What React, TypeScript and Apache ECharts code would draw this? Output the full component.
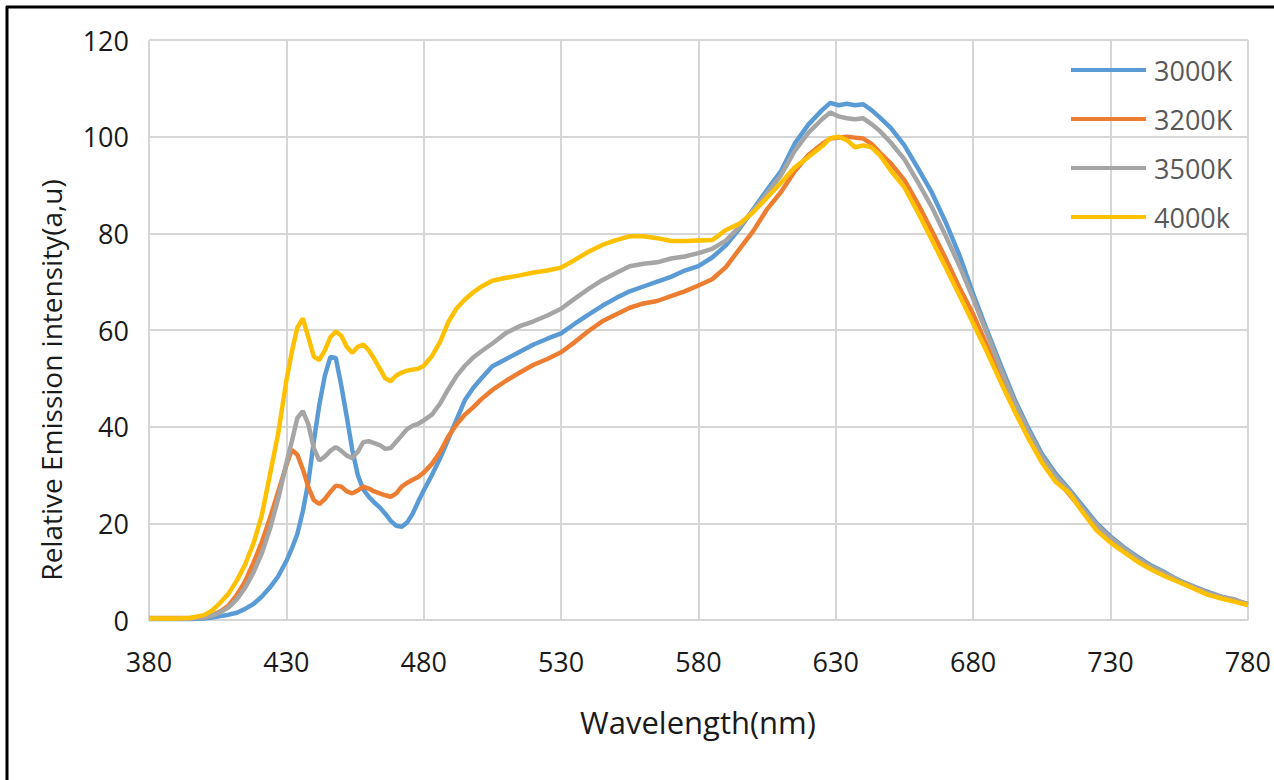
import React, { useEffect, useRef } from "react";
import * as echarts from "echarts";

const wavelengths = [
  380, 385, 390, 395, 400, 403, 406, 409, 412, 415, 418, 421, 424, 427,
  430, 432, 434, 436, 438, 440, 442, 444, 446, 448, 450, 452, 454, 456, 458, 460,
  462, 464, 466, 468, 470, 472, 474, 476, 478, 480,
  483, 486, 489, 492, 495, 498, 501, 505,
  510, 515, 520, 525, 530, 535, 540, 545, 550, 555, 560, 565, 570, 575, 580, 585,
  590, 595, 600, 605, 610, 615, 620, 625,
  628, 631, 634, 637, 640, 643, 646,
  650, 655, 660, 665, 670, 675, 680, 685, 690, 695, 700, 705, 710, 715, 720, 725,
  730, 735, 740, 745, 750, 755, 760, 765, 770, 775, 780,
];

const s3000K = [
  0.2, 0.2, 0.2, 0.2, 0.3, 0.5, 0.8, 1.1, 1.5, 2.3, 3.3, 4.8, 6.7, 9.0,
  12.2, 14.8, 17.8, 22.5, 28.5, 37, 44.5, 50.5, 54.4, 54.2, 48.5, 42, 35.2, 30, 27, 25.5,
  24.3, 23.3, 22, 20.5, 19.5, 19.3, 20.2, 22, 24.5, 26.8,
  30, 33.5, 37.5, 41.5, 45.5, 48, 50, 52.5,
  54, 55.5, 57, 58.2, 59.3, 61.3, 63.2, 65, 66.6, 68, 69, 70, 71, 72.3, 73.2, 75,
  77.5, 81, 85, 89, 92.8, 98.5, 102.5, 105.5,
  107, 106.5, 106.8, 106.5, 106.7, 105.5, 104,
  101.8, 98.2, 93.4, 88.4, 82.3, 75.5, 67.5, 60, 52.8, 45.8, 39.8, 34.4, 30.3, 27, 23.5, 20,
  17.3, 15, 13, 11.2, 9.8, 8.2, 7, 5.9, 4.9, 4.1, 3.3,
];

const s3200K = [
  0.4, 0.4, 0.4, 0.4, 0.6, 1.0, 1.8, 3.0, 5.2, 8.0, 11.8, 16, 21, 26.5,
  32, 35.2, 34.2, 31.2, 27.5, 24.8, 24, 25, 26.5, 27.8, 27.6, 26.6, 26.2, 26.8, 27.6, 27.2,
  26.6, 26.2, 25.8, 25.5, 26.2, 27.6, 28.4, 29, 29.6, 30.5,
  32.3, 34.8, 38, 40.5, 42.5, 44, 45.7, 47.6,
  49.5, 51.2, 52.8, 54, 55.4, 57.5, 59.8, 61.8, 63.2, 64.6, 65.5, 66, 67, 68, 69.2, 70.5,
  73, 76.8, 80.5, 85, 88.5, 92.8, 96.2, 98.5,
  99.6, 99.8, 100, 99.8, 99.6, 98.5, 96.7,
  94.5, 91, 86, 80.5, 74.8, 68.8, 63.3, 56.8, 50.5, 44.2, 38.4, 33.2, 29.2, 26, 22.5, 19.2,
  16.8, 14.5, 12.5, 10.8, 9.4, 8, 6.8, 5.7, 4.7, 4, 3.3,
];

const s3500K = [
  0.3, 0.3, 0.3, 0.3, 0.5, 0.9, 1.6, 2.6, 4.3, 6.7, 9.8, 13.7, 18.8, 25,
  32.4, 37, 41.8, 43.2, 40.5, 35.5, 33, 33.8, 35, 35.8, 35, 34, 33.5, 34.8, 36.8, 37,
  36.6, 36.2, 35.4, 35.6, 36.9, 38.2, 39.5, 40.2, 40.6, 41.3,
  42.5, 44.8, 47.8, 50.5, 52.6, 54.3, 55.6, 57.2,
  59.4, 60.8, 61.8, 63, 64.4, 66.5, 68.5, 70.3, 71.8, 73.2, 73.7, 74, 74.8, 75.2, 75.9, 76.8,
  78.5, 81.4, 84.8, 88.3, 92, 97, 100.8, 103.6,
  105, 104.2, 103.8, 103.6, 103.8, 102.6, 101.2,
  98.8, 95.3, 90.5, 85.4, 79.5, 73.3, 66.5, 59.3, 52, 45.2, 39.2, 33.8, 29.8, 26.7, 23, 19.6,
  17, 14.8, 12.7, 11, 9.6, 8.1, 6.9, 5.7, 4.8, 4.3, 3.2,
];

const s4000K = [
  0.3, 0.3, 0.3, 0.4, 1.0, 2.0, 3.6, 5.5, 8.2, 11.5, 15.8, 21.5, 30, 38.5,
  49.5, 55.5, 60.5, 62.4, 58.5, 54.5, 53.8, 55.8, 58.5, 59.7, 58.8, 56.5, 55.3, 56.5, 57, 55.8,
  54, 52, 50, 49.4, 50.6, 51.2, 51.6, 51.8, 52, 52.6,
  54.6, 57.6, 61.7, 64.5, 66.3, 67.8, 69, 70.2,
  70.8, 71.3, 71.9, 72.3, 72.9, 74.5, 76.2, 77.6, 78.6, 79.4, 79.4, 79, 78.4, 78.4, 78.5, 78.6,
  80.7, 82, 84.4, 87.4, 90.4, 93.6, 95.8, 98,
  99.7, 100, 99.3, 97.8, 98.2, 97.8, 96.2,
  93, 89.5, 84.2, 78.6, 73, 67.2, 61.4, 55.5, 49.3, 43.3, 37.7, 32.6, 28.6, 26.3, 22.2, 18.5,
  16, 14, 12, 10.4, 9, 7.8, 6.6, 5.3, 4.5, 3.8, 3.1,
];

const seriesNames = ["3000K", "3200K", "3500K", "4000k"];
const seriesValues = [s3000K, s3200K, s3500K, s4000K];
const seriesColors = ["#5B9BD5", "#ED7D31", "#A5A5A5", "#FFC000"];

const xAxisTitle = "Wavelength(nm)";
const yAxisTitle = "Relative Emission intensity(a,u)";

export default function App() {
  const ref = useRef<HTMLDivElement>(null);

  useEffect(() => {
    if (!ref.current) return;
    const chart = echarts.init(ref.current, null, { renderer: "svg" });
    const font = "'Open Sans', 'Noto Sans', sans-serif";
    const gridColor = "#d6d6d6";

    chart.setOption({
      animation: false,
      backgroundColor: "#ffffff",
      textStyle: { fontFamily: font },
      grid: { left: 149, right: 22, top: 40, bottom: 160 },
      xAxis: {
        type: "value",
        min: 380,
        max: 780,
        interval: 50,
        axisLine: { show: true, lineStyle: { color: gridColor, width: 2 } },
        axisTick: { show: false },
        splitLine: { show: true, lineStyle: { color: gridColor, width: 2 } },
        axisLabel: { fontSize: 27, color: "#1a1a1a", margin: 28, fontFamily: font },
      },
      yAxis: {
        type: "value",
        min: 0,
        max: 120,
        interval: 20,
        axisLine: { show: false },
        axisTick: { show: false },
        splitLine: { show: true, lineStyle: { color: gridColor, width: 2 } },
        axisLabel: { fontSize: 27, color: "#1a1a1a", margin: 20, fontFamily: font },
      },
      legend: {
        orient: "vertical",
        left: 1066,
        top: 50,
        icon: "rect",
        itemWidth: 75,
        itemHeight: 4,
        itemGap: 19,
        data: seriesNames,
        textStyle: {
          fontSize: 27,
          color: "#595959",
          lineHeight: 30,
          fontFamily: font,
          padding: [0, 0, 0, 3],
        },
      },
      graphic: [
        {
          type: "line",
          shape: { x1: 6, y1: 7, x2: 1274, y2: 7 },
          style: { stroke: "#000000", lineWidth: 3 },
        },
        {
          type: "line",
          shape: { x1: 7, y1: 6, x2: 7, y2: 780 },
          style: { stroke: "#000000", lineWidth: 3 },
        },
        {
          type: "text",
          x: 698,
          y: 722,
          style: {
            text: xAxisTitle,
            fontSize: 31,
            fontFamily: font,
            fill: "#1a1a1a",
            textAlign: "center",
            textVerticalAlign: "middle",
          },
        },
        {
          type: "text",
          x: 51,
          y: 380,
          rotation: Math.PI / 2,
          style: {
            text: yAxisTitle,
            fontSize: 28,
            fontFamily: font,
            fill: "#1a1a1a",
            textAlign: "center",
            textVerticalAlign: "middle",
          },
        },
      ],
      series: seriesNames.map((name, si) => ({
        name,
        type: "line",
        symbol: "none",
        smooth: false,
        color: seriesColors[si],
        lineStyle: { width: 4.5, color: seriesColors[si] },
        data: wavelengths.map((w, i) => [w, seriesValues[si][i]]),
      })),
    });

    return () => {
      chart.dispose();
    };
  }, []);

  return (
    <div
      ref={ref}
      style={{ position: "absolute", left: 0, top: 0, width: 1274, height: 780 }}
    />
  );
}
